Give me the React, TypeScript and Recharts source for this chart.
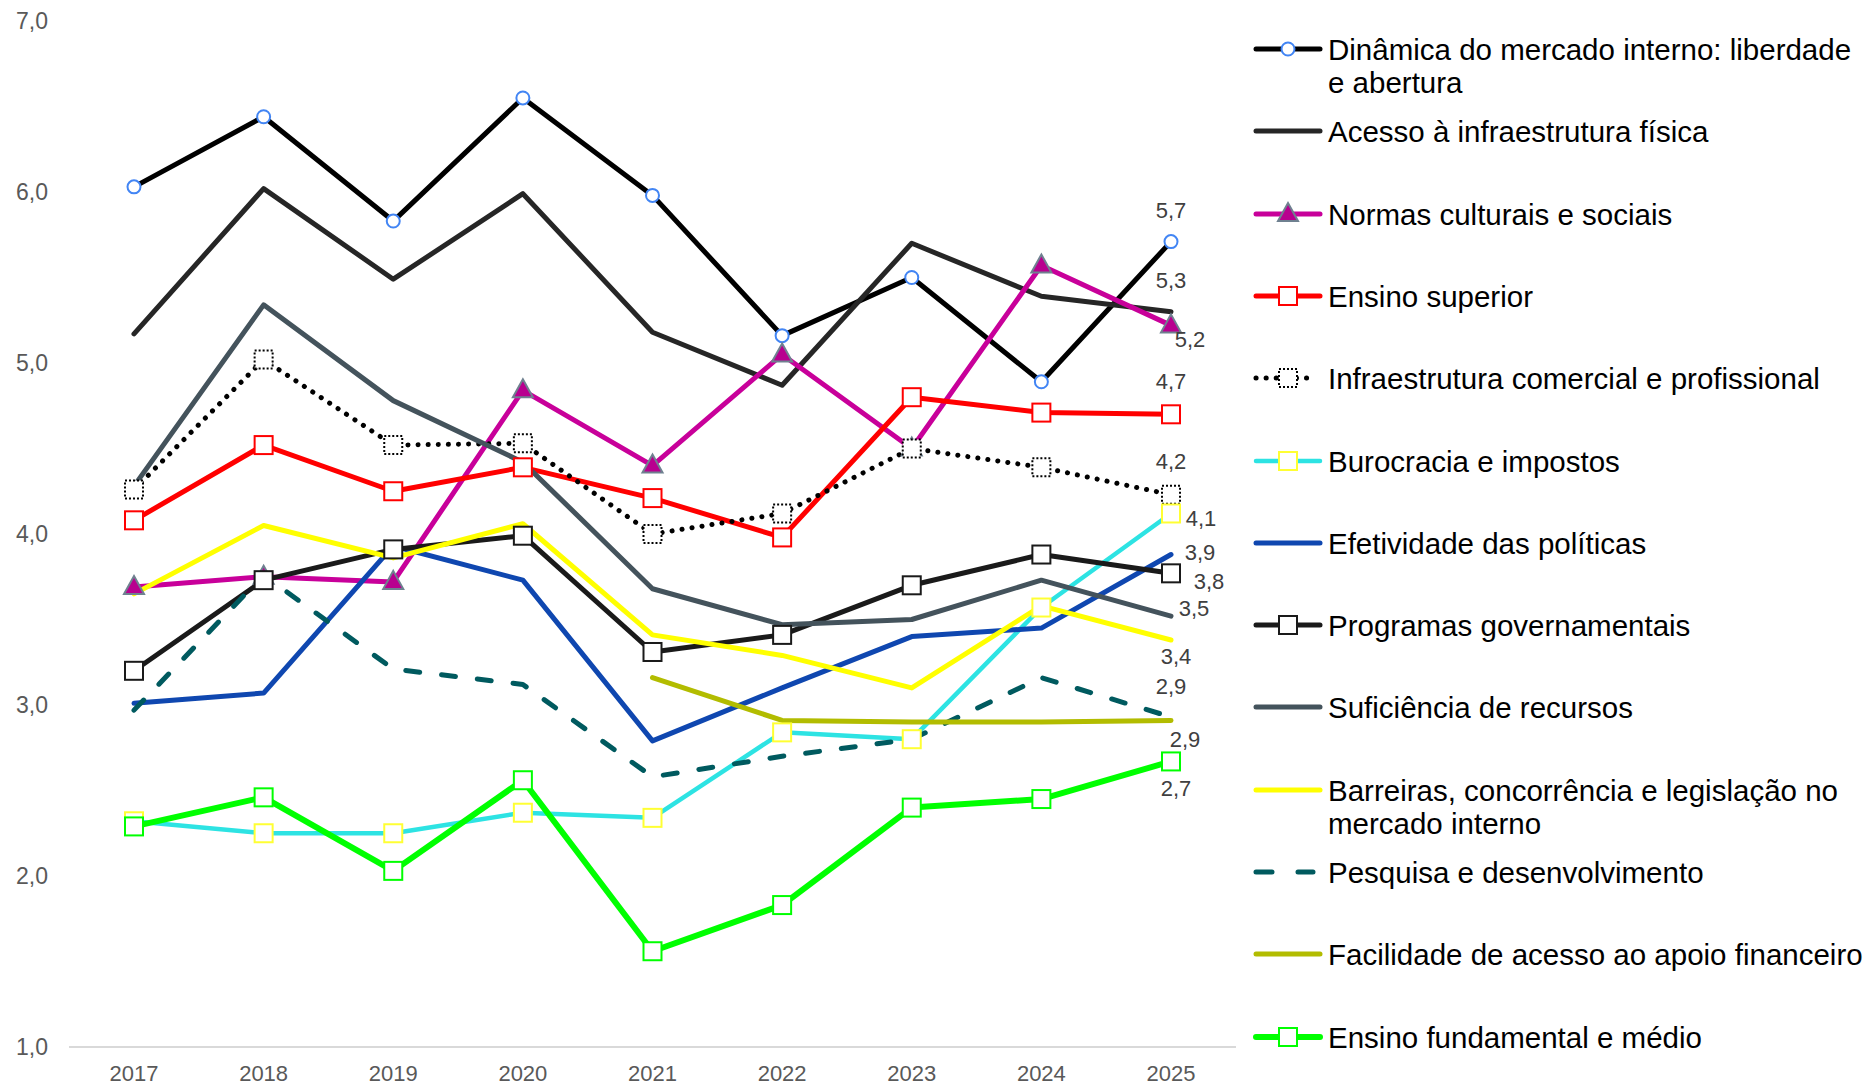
import React from "react";
import { LineChart, Line, XAxis, YAxis, LabelList } from "recharts";

const YEARS = ["2017", "2018", "2019", "2020", "2021", "2022", "2023", "2024", "2025"];

const DINAMICA = [6.03, 6.44, 5.83, 6.55, 5.98, 5.16, 5.5, 4.89, 5.71];
const ACESSO = [5.17, 6.02, 5.49, 5.99, 5.18, 4.87, 5.7, 5.39, 5.3];
const NORMAS = [3.69, 3.75, 3.72, 4.84, 4.4, 5.05, 4.5, 5.57, 5.22];
const ENSINO_SUP = [4.08, 4.52, 4.25, 4.39, 4.21, 3.98, 4.8, 4.71, 4.7];
const INFRA_COM = [4.26, 5.02, 4.52, 4.53, 4.0, 4.12, 4.5, 4.39, 4.23];
const BUROCRACIA = [2.32, 2.25, 2.25, 2.37, 2.34, 2.84, 2.8, 3.57, 4.12];
const EFETIVIDADE = [3.01, 3.07, 3.93, 3.73, 2.79, 3.1, 3.4, 3.45, 3.88];
const PROGRAMAS = [3.2, 3.73, 3.91, 3.99, 3.31, 3.41, 3.7, 3.88, 3.77];
const SUFICIENCIA = [4.28, 5.34, 4.78, 4.42, 3.68, 3.47, 3.5, 3.73, 3.52];
const BARREIRAS = [3.65, 4.05, 3.86, 4.06, 3.41, 3.29, 3.1, 3.58, 3.38];
const PESQUISA = [2.97, 3.76, 3.21, 3.12, 2.58, 2.7, 2.8, 3.16, 2.93];
const FACILIDADE = [null, null, null, null, 3.16, 2.91, 2.9, 2.9, 2.91];
const ENSINO_FUND = [2.29, 2.46, 2.03, 2.56, 1.56, 1.83, 2.4, 2.45, 2.67];

const Y_TICKS = [1, 2, 3, 4, 5, 6, 7];

type Marker = "circle" | "triangle" | "square" | "squareDotted" | null;

interface SeriesDef {
  key: string;
  name: string;
  values: (number | null)[];
  color: string;
  width: number;
  dash?: string;
  legendDash?: string;
  marker: Marker;
  markerStroke?: string;
  markerFill?: string;
  dx: number;
  dy: number;
}

// dx/dy = where the 2025 value label sits relative to the last point
const SERIES: SeriesDef[] = [
  { key: "dinamica", name: "Dinâmica do mercado interno: liberdade e abertura", values: DINAMICA, color: "#000000", width: 5, marker: "circle", markerStroke: "#4285f4", markerFill: "#ffffff", dx: 0, dy: -31 },
  { key: "acesso", name: "Acesso à infraestrutura física", values: ACESSO, color: "#262626", width: 5, marker: null, dx: 0, dy: -31 },
  { key: "normas", name: "Normas culturais e sociais", values: NORMAS, color: "#c8009a", width: 5, marker: "triangle", markerStroke: "#6f8190", markerFill: "#b8008f", dx: 19, dy: 14 },
  { key: "ensinoSup", name: "Ensino superior", values: ENSINO_SUP, color: "#ff0000", width: 5, marker: "square", markerStroke: "#ff0000", markerFill: "#ffffff", dx: 0, dy: -33 },
  { key: "infra", name: "Infraestrutura comercial e profissional", values: INFRA_COM, color: "#000000", width: 5, dash: "0.1 10", legendDash: "0.1 10", marker: "squareDotted", markerStroke: "#000000", markerFill: "#ffffff", dx: 0, dy: -33 },
  { key: "burocracia", name: "Burocracia e impostos", values: BUROCRACIA, color: "#2de3e3", width: 4.5, marker: "square", markerStroke: "#ffff33", markerFill: "#ffffff", dx: 30, dy: 5 },
  { key: "efetividade", name: "Efetividade das políticas", values: EFETIVIDADE, color: "#0f47b0", width: 5, marker: null, dx: 29, dy: -2 },
  { key: "programas", name: "Programas governamentais", values: PROGRAMAS, color: "#1a1a1a", width: 5, marker: "square", markerStroke: "#1a1a1a", markerFill: "#ffffff", dx: 38, dy: 8 },
  { key: "suficiencia", name: "Suficiência de recursos", values: SUFICIENCIA, color: "#44535c", width: 5, marker: null, dx: 23, dy: -8 },
  { key: "barreiras", name: "Barreiras, concorrência e legislação no mercado interno", values: BARREIRAS, color: "#ffff00", width: 5, marker: null, dx: 5, dy: 16 },
  { key: "pesquisa", name: "Pesquisa e desenvolvimento", values: PESQUISA, color: "#005a5f", width: 5, dash: "14 22", legendDash: "16 26", marker: null, dx: 0, dy: -30 },
  { key: "facilidade", name: "Facilidade de acesso ao apoio financeiro", values: FACILIDADE, color: "#b2bc00", width: 5, marker: null, dx: 14, dy: 19 },
  { key: "ensinoFund", name: "Ensino fundamental e médio", values: ENSINO_FUND, color: "#00ff00", width: 6, marker: "square", markerStroke: "#00ff00", markerFill: "#ffffff", dx: 5, dy: 27 },
];

const data = YEARS.map((year, i) => {
  const row: Record<string, string | number | null> = { year };
  SERIES.forEach((s) => {
    row[s.key] = s.values[i];
  });
  return row;
});

const FONT = "'Liberation Sans', Arial, sans-serif";
const fmt = (v: number) => v.toFixed(1).replace(".", ",");

function drawMarker(s: SeriesDef, cx: number, cy: number, key?: string) {
  const stroke = s.markerStroke;
  const fill = s.markerFill;
  if (s.marker === "circle") {
    return <circle key={key} cx={cx} cy={cy} r={6.5} fill={fill} stroke={stroke} strokeWidth={2} />;
  }
  if (s.marker === "triangle") {
    return (
      <polygon
        key={key}
        points={`${cx},${cy - 11} ${cx + 10},${cy + 7} ${cx - 10},${cy + 7}`}
        fill={fill}
        stroke={stroke}
        strokeWidth={2}
      />
    );
  }
  if (s.marker === "square") {
    return <rect key={key} x={cx - 9} y={cy - 9} width={18} height={18} fill={fill} stroke={stroke} strokeWidth={2} />;
  }
  if (s.marker === "squareDotted") {
    return (
      <rect key={key} x={cx - 9} y={cy - 9} width={18} height={18} fill={fill} stroke={stroke} strokeWidth={2} strokeDasharray="2 2" />
    );
  }
  return null;
}

function makeDot(s: SeriesDef) {
  return (props: any) => {
    const { cx, cy, index } = props;
    const key = `${s.key}-dot-${index}`;
    if (cx == null || cy == null || props.value == null) return <g key={key} />;
    return drawMarker(s, cx, cy, key) as React.ReactElement;
  };
}

function makeLabel(s: SeriesDef) {
  return (props: any) => {
    const { x, y, value, index } = props;
    if (index !== YEARS.length - 1 || value == null) return null;
    return (
      <text
        x={x + s.dx}
        y={y + s.dy}
        textAnchor="middle"
        dominantBaseline="central"
        fill="#404040"
        fontSize={22}
        fontFamily={FONT}
      >
        {fmt(Number(value))}
      </text>
    );
  };
}

const ROW_TOP = 49;
const ROW_STEP = 82.3;

function LegendIcon({ s }: { s: SeriesDef }) {
  return (
    <svg width={70} height={30} style={{ position: "absolute", left: 0, top: -15, overflow: "visible" }}>
      <line
        x1={3}
        y1={15}
        x2={s.dash ? 60 : 67}
        y2={15}
        stroke={s.color}
        strokeWidth={s.width}
        strokeLinecap="round"
        strokeDasharray={s.legendDash}
      />
      {drawMarker(s, 35, 15)}
    </svg>
  );
}

function ChartLegend() {
  return (
    <div style={{ position: "absolute", left: 1253, top: 0, width: 610, height: 1085 }}>
      {SERIES.map((s, i) => {
        const center = ROW_TOP + i * ROW_STEP;
        return (
          <div key={s.key} style={{ position: "absolute", left: 0, top: center, width: 610 }}>
            <LegendIcon s={s} />
            <div
              style={{
                position: "absolute",
                left: 75,
                top: -16,
                width: 536,
                fontFamily: FONT,
                fontSize: 29.5,
                lineHeight: "33px",
                color: "#000000",
              }}
            >
              {s.name}
            </div>
          </div>
        );
      })}
    </div>
  );
}

export default function App() {
  return (
    <div
      style={{
        position: "absolute",
        left: 0,
        top: 0,
        width: 1863,
        height: 1085,
        overflow: "hidden",
        background: "#ffffff",
      }}
    >
      <LineChart
        width={1863}
        height={1085}
        data={data}
        margin={{ top: 21, right: 627, bottom: 0, left: 0 }}
      >
        <XAxis
          dataKey="year"
          height={38}
          padding={{ left: 65, right: 65 }}
          axisLine={{ stroke: "#d9d9d9", strokeWidth: 2 }}
          tickLine={false}
          tickSize={0}
          tickMargin={18}
          tick={{ fontSize: 22, fill: "#595959", fontFamily: FONT }}
        />
        <YAxis
          type="number"
          domain={[1, 7]}
          ticks={Y_TICKS}
          width={69}
          axisLine={false}
          tickLine={false}
          tickSize={0}
          tickMargin={21}
          tickFormatter={fmt}
          tick={{ fontSize: 23, fill: "#595959", fontFamily: FONT }}
        />
        {SERIES.map((s) => (
          <Line
            key={s.key}
            dataKey={s.key}
            name={s.name}
            type="linear"
            stroke={s.color}
            strokeWidth={s.width}
            strokeDasharray={s.dash}
            strokeLinecap="round"
            strokeLinejoin="round"
            dot={s.marker ? makeDot(s) : false}
            activeDot={false}
            connectNulls={false}
            isAnimationActive={false}
          >
            <LabelList dataKey={s.key} content={makeLabel(s)} />
          </Line>
        ))}
      </LineChart>
      <ChartLegend />
    </div>
  );
}
